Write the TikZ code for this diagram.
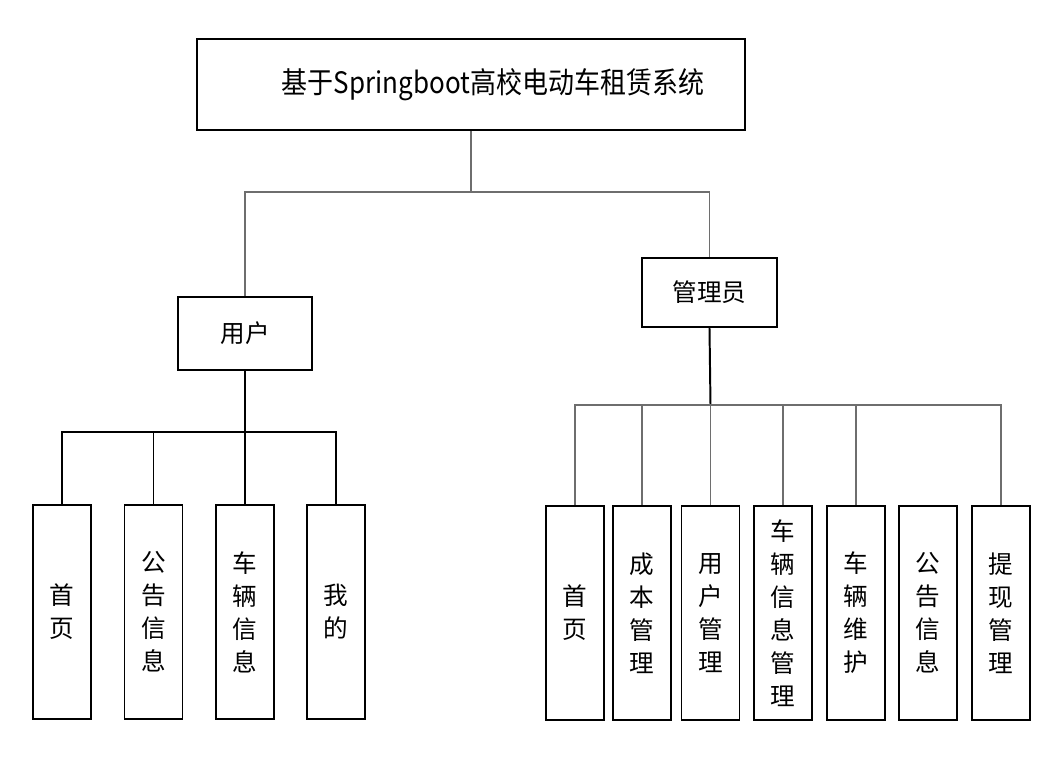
\documentclass[tikz,border=0pt]{standalone}
\usepackage{fontspec}
\usetikzlibrary{positioning}
\newfontfamily\cjk{Noto Sans CJK SC}
\newfontfamily\cjktitle[FakeStretch=0.88]{Noto Sans CJK SC}
\definecolor{sysLine}{RGB}{110,110,110}

\begin{document}
\begin{tikzpicture}[x=0.025cm, y=-0.025cm,
    box/.style={rectangle, draw=black, line width=1.4pt, inner sep=0pt,
                align=center, font=\cjk\fontsize{17.5}{23.5}\selectfont},
    leaf/.style={box, minimum width=1.45cm, minimum height=5.35cm},
    link/.style={sysLine, line width=0.9pt},
    trunk/.style={black, line width=1.4pt}
  ]
  \useasboundingbox (0,0) rectangle (1061,760);

  \node[box, minimum width=13.7cm, minimum height=2.275cm,
        font=\cjktitle\fontsize{21}{25}\selectfont] (sys) at (471,84.5)
        {\hspace*{1.1cm}基于Springboot高校电动车租赁系统};

  \node[box, minimum width=3.35cm, minimum height=1.825cm] (user) at (245,333.5) {用户};
  \node[box, minimum width=3.375cm, minimum height=1.725cm] (admin) at (709.5,292.5) {管理员};

  % user leaves
  \node[leaf] (u1) at (62,612)  {首\\页};
  \node[leaf] (u2) at (153.5,612) {公\\告\\信\\息};
  \node[leaf] (u3) at (245,612) {车\\辆\\信\\息};
  \node[leaf] (u4) at (336,612) {我\\的};

  % admin leaves
  \node[leaf] (a1) at (575,613)   {首\\页};
  \node[leaf] (a2) at (642,613)   {成\\本\\管\\理};
  \node[leaf] (a3) at (710.5,613) {用\\户\\管\\理};
  \node[leaf] (a4) at (783,613)   {车\\辆\\信\\息\\管\\理};
  \node[leaf] (a5) at (856,613)   {车\\辆\\维\\护};
  \node[leaf] (a6) at (928,613)   {公\\告\\信\\息};
  \node[leaf] (a7) at (1001,613)  {提\\现\\管\\理};

  \coordinate (sbus) at (471,192);
  \coordinate (ubus) at (245,432);
  \coordinate (abus) at (710.5,405);

  \draw[link] (sys.south) -- (sbus);
  \draw[link] (sbus) -| (user.north);
  \draw[link] (sbus) -| (admin.north);

  \draw[trunk] (user.south) -- (ubus);
  \foreach \n in {u1,u2,u3,u4}
    \draw[trunk] (ubus) -| (\n.north);

  \draw[trunk] (admin.south) -- (abus);
  \foreach \n in {a1,a2,a3,a4,a5,a7}
    \draw[link] (abus) -| (\n.north);
\end{tikzpicture}
\end{document}
